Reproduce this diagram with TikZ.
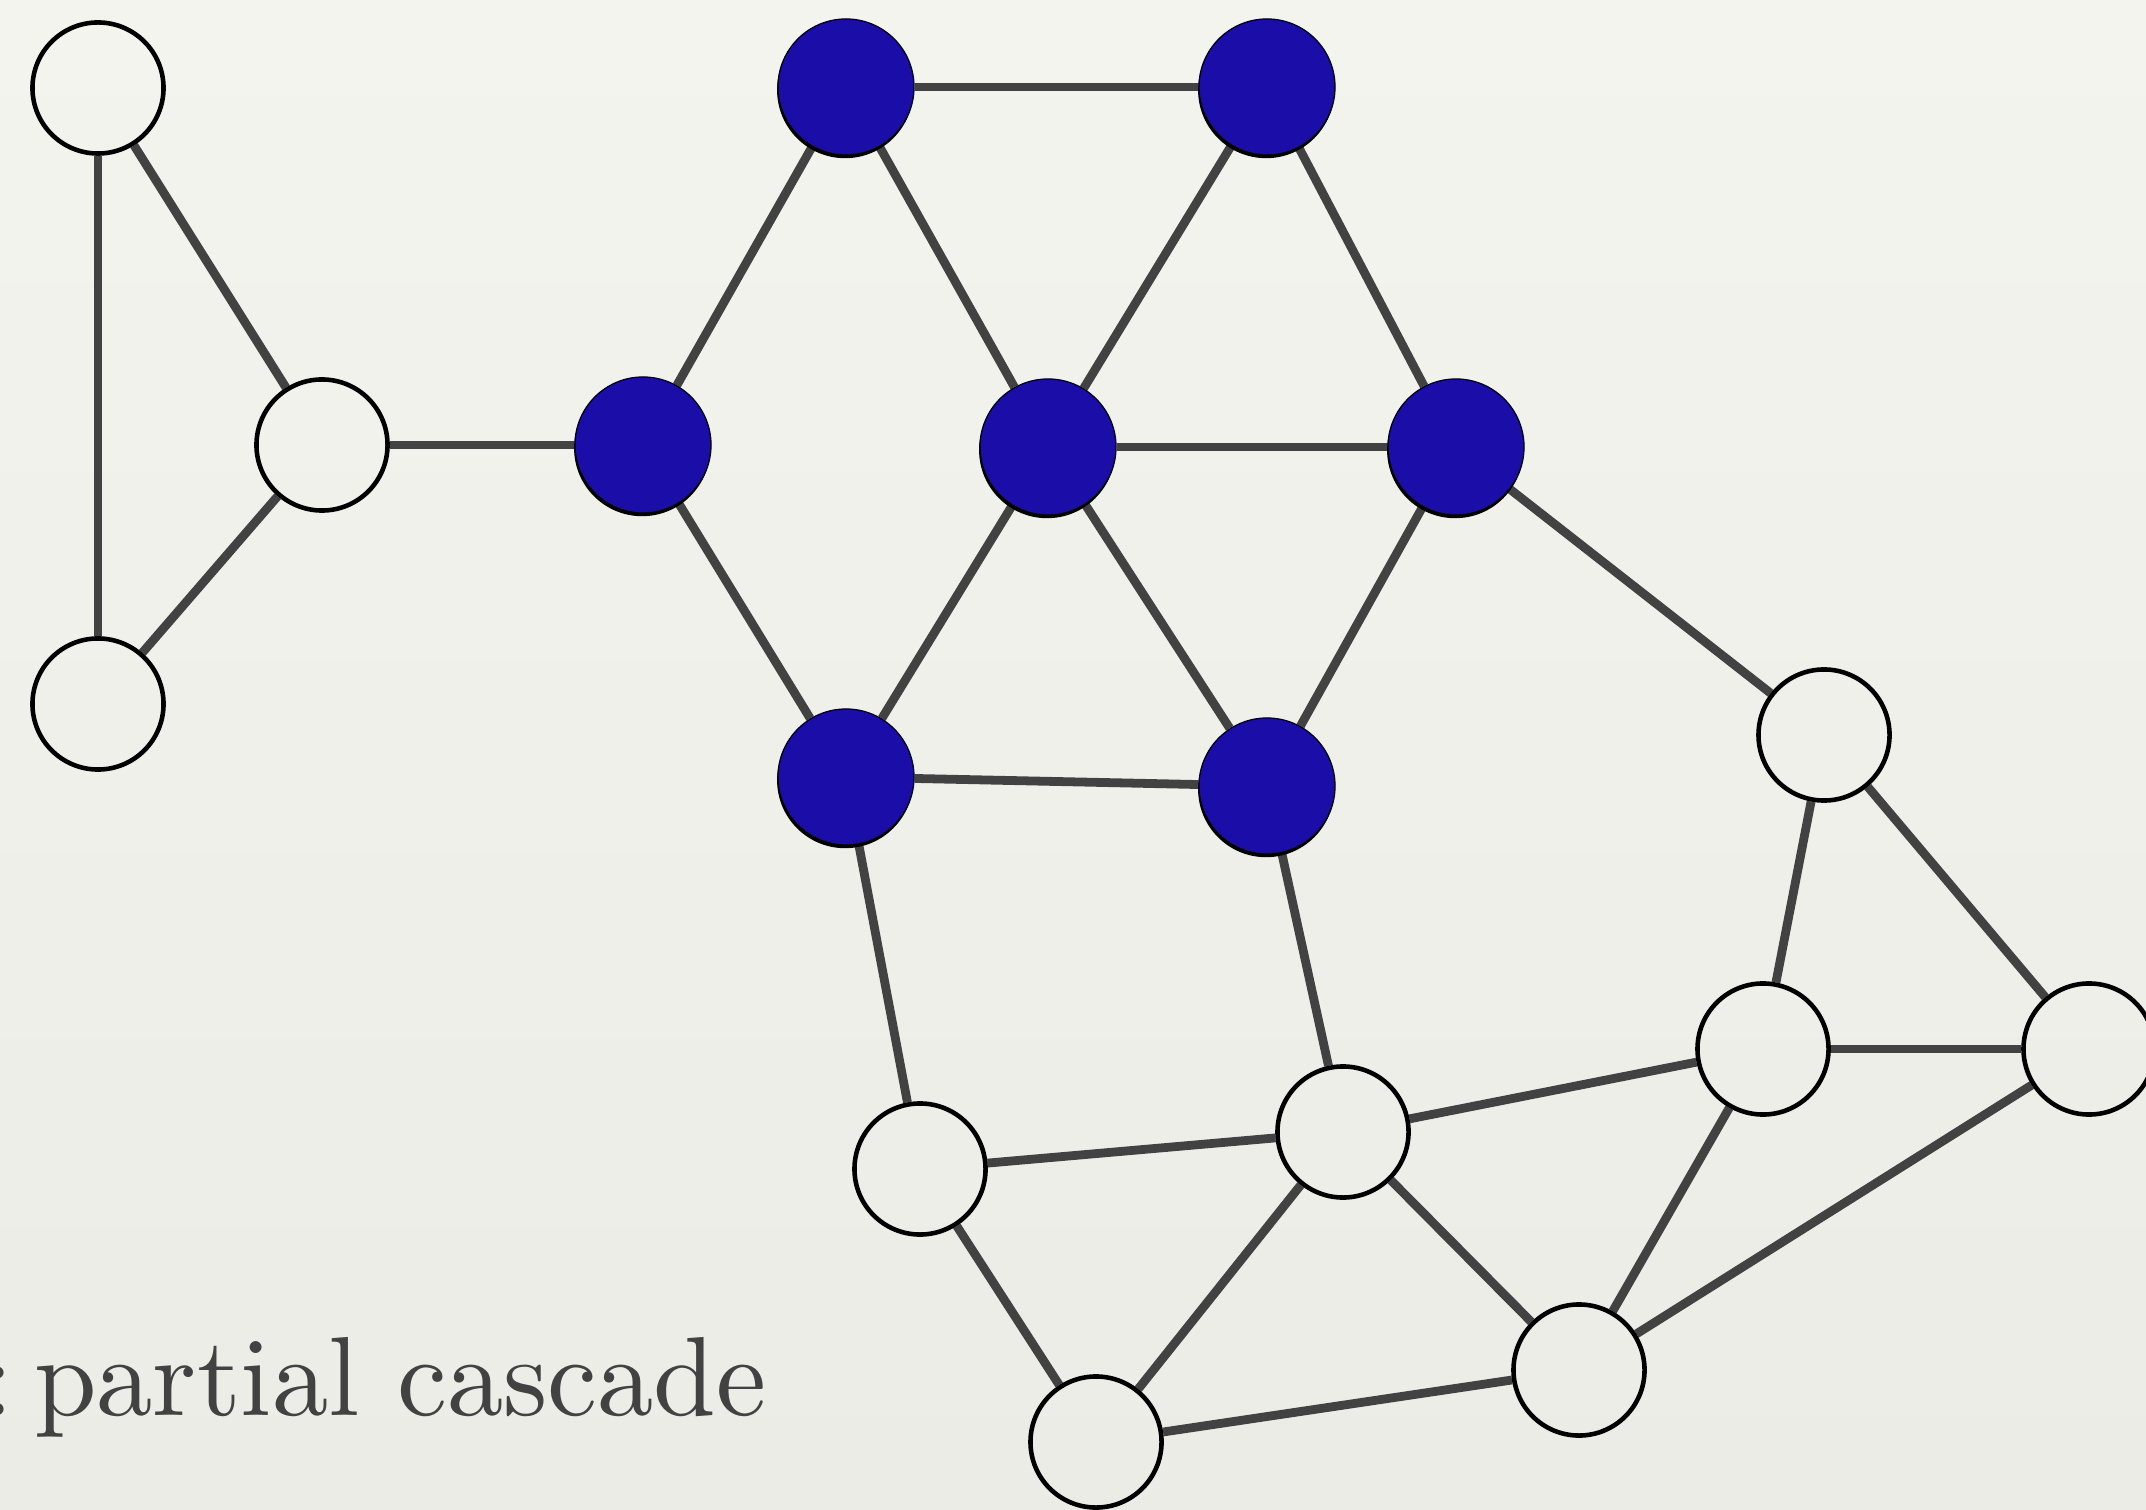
\documentclass[tikz,border=0pt]{standalone}
\usepackage{fontspec}
\newfontfamily\capfont{lmroman10-regular}[Extension=.otf]
\usetikzlibrary{shadows}
\definecolor{edgegray}{RGB}{66,66,66}
\definecolor{seedblue}{RGB}{26,13,168}
\definecolor{textgray}{RGB}{66,66,66}
\definecolor{bgtop}{RGB}{244,244,239}
\definecolor{bgmid}{RGB}{228,227,222}
\definecolor{bgbot}{RGB}{236,236,231}
\pgfdeclarelayer{paper}
\pgfdeclarelayer{links}
\pgfsetlayers{paper,links,main}
\begin{document}
\begin{tikzpicture}[x=0.01cm,y=-0.01cm,
  edge/.style={draw=edgegray,line width=2.5pt},
  plain/.style={circle,draw=black,line width=1.3pt,minimum size=1.31cm,inner sep=0pt},
  seed/.style={circle,draw=black,line width=0.35pt,fill=seedblue,minimum size=1.36cm,inner sep=0pt,
    general shadow={fill=black,shadow xshift=-0.25pt,shadow yshift=-0.9pt}}]
  % page and paper background
  \useasboundingbox (0,0) rectangle (2146,1510);
  \begin{pgfonlayer}{paper}
    \shade[top color=bgtop,middle color=bgmid,bottom color=bgbot] (0,0) rectangle (2146,1510);
  \end{pgfonlayer}

  % inactive nodes
  \node[plain] (a) at (98,88) {};
  \node[plain] (b) at (322,445) {};
  \node[plain] (c) at (98,704) {};
  \node[plain] (k) at (1824,735) {};
  \node[plain] (l) at (1763,1049) {};
  \node[plain] (m) at (2089,1049) {};
  \node[plain] (n) at (1343,1132) {};
  \node[plain] (o) at (920,1169) {};
  \node[plain] (p) at (1096,1442) {};
  \node[plain] (q) at (1579,1370) {};

  % active (cascade) nodes
  \node[seed] (d) at (643,445) {};
  \node[seed] (e) at (846,87) {};
  \node[seed] (f) at (1267,87) {};
  \node[seed] (g) at (1048,447) {};
  \node[seed] (h) at (1456,447) {};
  \node[seed] (i) at (846,777) {};
  \node[seed] (j) at (1267,786) {};

  % edges, kept beneath the nodes
  \begin{pgfonlayer}{links}
    \foreach \u/\v in {a/b,a/c,b/c,b/d,d/e,d/i,e/f,e/g,f/g,f/h,g/h,g/i,g/j,h/j,h/k,i/j,i/o,j/n,
                       k/l,k/m,l/m,l/n,l/q,m/q,n/o,n/p,n/q,o/p,p/q}
      \path[edge] (\u) -- (\v);
  \end{pgfonlayer}

  % caption
  \node[anchor=base west,inner sep=0pt,text=textgray,font=\capfont\fontsize{32}{38}\selectfont] (caption)
    at (-18,1415) {:\hspace{0.18em}partial cascade};
\end{tikzpicture}
\end{document}
